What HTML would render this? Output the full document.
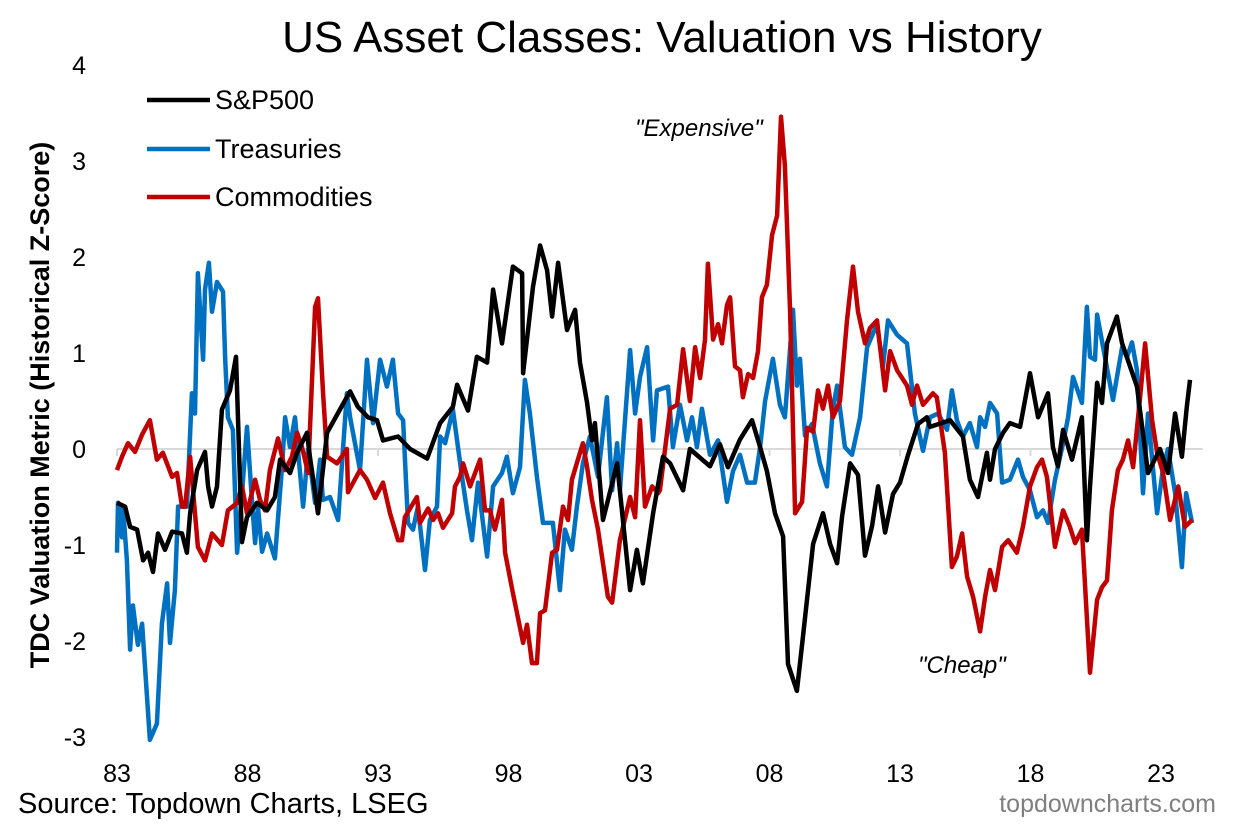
<!DOCTYPE html>
<html><head><meta charset="utf-8"><style>
body{margin:0;background:#fff;}
svg text{font-family:"Liberation Sans",Arial,sans-serif;}
</style></head><body>
<svg id="chart" width="1237" height="825" viewBox="0 0 1237 825">
<text x="662" y="52" text-anchor="middle" font-size="44" fill="#000">US Asset Classes: Valuation vs History</text>
<text transform="translate(49,405) rotate(-90)" text-anchor="middle" font-size="27" font-weight="bold">TDC Valuation Metric (Historical Z-Score)</text>
<g id="yticks"></g>
<g id="xticks"></g>
<g id="series"></g>
<g>
<line x1="147" y1="100" x2="210" y2="100" stroke="#000" stroke-width="4.5"/>
<text x="215" y="109" font-size="27">S&amp;P500</text>
<line x1="147" y1="149" x2="210" y2="149" stroke="#0070C0" stroke-width="4.5"/>
<text x="215" y="158" font-size="27">Treasuries</text>
<line x1="147" y1="197" x2="210" y2="197" stroke="#C00000" stroke-width="4.5"/>
<text x="215" y="206" font-size="27">Commodities</text>
</g>
<text x="635" y="136" font-size="24" font-style="italic">"Expensive"</text>
<text x="918" y="673" font-size="24" font-style="italic">"Cheap"</text>
<text x="18" y="813" font-size="29">Source: Topdown Charts, LSEG</text>
<text x="1216" y="812" font-size="25" text-anchor="end" fill="#7f7f7f">topdowncharts.com</text>
</svg>
<script>
const yTicks=[4,3,2,1,0,-1,-2,-3];
const xTickYears=[1983,1988,1993,1998,2003,2008,2013,2018,2023];
const xTickLabels=["83","88","93","98","03","08","13","18","23"];
const spT=[1983.00,1983.31,1983.50,1983.77,1984.00,1984.19,1984.38,1984.57,1984.84,1985.11,1985.49,1985.68,1985.80,1986.07,1986.37,1986.49,1986.64,1986.83,1987.02,1987.33,1987.56,1987.79,1987.98,1988.36,1988.75,1989.05,1989.25,1989.63,1989.90,1990.28,1990.39,1990.70,1991.05,1991.54,1991.93,1992.23,1992.62,1992.96,1993.19,1993.77,1994.23,1994.88,1995.38,1995.87,1996.03,1996.45,1996.79,1997.18,1997.41,1997.75,1998.17,1998.52,1998.56,1998.94,1999.21,1999.48,1999.67,1999.90,2000.24,2000.55,2000.74,2001.01,2001.20,2001.31,2001.62,2002.16,2002.66,2002.92,2003.15,2003.54,2003.92,2004.19,2004.69,2004.95,2005.72,2006.10,2006.41,2006.87,2007.33,2007.64,2007.90,2008.21,2008.52,2008.71,2009.05,2009.28,2009.67,2010.05,2010.32,2010.59,2010.78,2011.09,2011.39,2011.66,2011.93,2012.16,2012.43,2012.73,2013.00,2013.31,2013.69,2014.03,2014.15,2014.92,2015.41,2015.68,2015.99,2016.33,2016.45,2016.64,2016.95,2017.21,2017.60,2017.98,2018.29,2018.67,2018.86,2019.05,2019.25,2019.59,2019.97,2020.16,2020.28,2020.55,2020.74,2020.93,2021.31,2021.51,2022.08,2022.50,2022.96,2023.27,2023.54,2023.80,2023.99,2024.11];
const spV=[-0.56,-0.6,-0.81,-0.84,-1.16,-1.08,-1.28,-0.88,-1.05,-0.86,-0.88,-1.08,-0.67,-0.22,-0.03,-0.39,-0.6,-0.39,0.41,0.61,0.96,-0.97,-0.71,-0.56,-0.64,-0.5,-0.11,-0.25,-0.04,0.17,-0.08,-0.67,0.17,0.41,0.6,0.44,0.33,0.3,0.09,0.13,0,-0.1,0.27,0.44,0.67,0.4,0.96,0.9,1.66,1.1,1.9,1.83,0.79,1.69,2.12,1.86,1.38,1.94,1.24,1.45,0.9,0.48,0.09,0.27,-0.74,-0.15,-1.47,-1.05,-1.4,-0.67,-0.08,-0.15,-0.43,0,-0.18,0.05,-0.19,0.1,0.3,0.02,-0.23,-0.67,-0.91,-2.24,-2.52,-1.96,-0.99,-0.67,-0.99,-1.19,-0.7,-0.15,-0.27,-1.11,-0.8,-0.39,-0.87,-0.47,-0.35,-0.06,0.26,0.33,0.23,0.3,0.13,-0.32,-0.5,-0.04,-0.32,0,0.17,0.27,0.23,0.79,0.33,0.58,0.02,-0.18,0.2,-0.11,0.33,-0.95,-0.39,0.69,0.48,1.1,1.38,1.1,0.65,-0.25,0,-0.25,0.37,-0.08,0.44,0.72];
const tyT=[1983.00,1983.04,1983.19,1983.23,1983.38,1983.50,1983.61,1983.80,1983.96,1984.26,1984.53,1984.72,1984.92,1985.03,1985.22,1985.34,1985.68,1985.87,1985.99,1986.10,1986.30,1986.37,1986.52,1986.64,1986.83,1987.06,1987.14,1987.25,1987.44,1987.60,1987.79,1987.98,1988.17,1988.29,1988.40,1988.56,1988.75,1989.05,1989.32,1989.44,1989.63,1989.82,1990.13,1990.32,1990.59,1990.78,1990.89,1991.16,1991.47,1991.81,1991.93,1992.31,1992.58,1992.81,1993.08,1993.34,1993.57,1993.77,1993.96,1994.15,1994.34,1994.53,1994.80,1994.99,1995.26,1995.38,1995.57,1995.87,1996.22,1996.41,1996.60,1996.83,1997.18,1997.41,1997.75,1997.94,1998.17,1998.44,1998.63,1998.82,1999.09,1999.32,1999.70,1999.97,2000.16,2000.43,2000.62,2000.85,2001.12,2001.43,2001.77,2001.97,2002.16,2002.27,2002.66,2002.85,2003.04,2003.31,2003.54,2003.69,2004.11,2004.30,2004.57,2004.84,2005.03,2005.22,2005.41,2005.72,2006.03,2006.37,2006.60,2006.87,2007.14,2007.44,2007.64,2007.83,2008.13,2008.40,2008.59,2008.90,2009.05,2009.17,2009.36,2009.63,2009.93,2010.20,2010.43,2010.59,2010.89,2011.16,2011.47,2011.74,2012.12,2012.35,2012.54,2012.89,2013.27,2013.57,2013.88,2014.15,2014.46,2014.80,2014.99,2015.18,2015.41,2015.68,2015.95,2016.07,2016.26,2016.45,2016.72,2016.91,2017.21,2017.52,2017.71,2017.98,2018.25,2018.48,2018.67,2018.94,2019.25,2019.44,2019.63,2019.97,2020.16,2020.28,2020.47,2020.55,2020.78,2021.16,2021.51,2021.70,2021.89,2022.08,2022.31,2022.50,2022.85,2023.08,2023.27,2023.54,2023.80,2023.96,2024.19];
const tyV=[-1.08,-0.56,-0.92,-0.6,-1.16,-2.09,-1.63,-2.04,-1.82,-3.03,-2.86,-1.82,-1.4,-2.02,-1.47,-0.6,-0.6,0.58,0.37,1.83,0.93,1.66,1.94,1.43,1.74,1.64,0.96,0.33,0.2,-1.08,-0.46,0.23,-0.53,-0.98,-0.6,-1.07,-0.88,-1.14,-0.19,0.33,0.02,0.33,-0.6,0,-0.56,-0.11,-0.53,-0.5,-0.74,0.58,0.33,-0.22,0.93,0.27,0.93,0.65,0.93,0.37,0.3,-0.77,-0.84,-0.6,-1.26,-0.74,-0.6,0.13,0.06,0.41,-0.29,-0.64,-0.95,-0.35,-1.12,-0.39,-0.25,-0.08,-0.46,-0.19,0.72,0.37,-0.29,-0.77,-0.77,-1.47,-0.84,-1.05,-0.6,-0.15,0.13,-0.29,0.54,-0.43,0.06,-0.43,1.03,0.37,0.75,1.06,0.09,0.61,0.65,0.02,0.46,0.09,0.33,0.02,0.42,-0.06,0.09,-0.55,-0.23,-0.06,-0.35,-0.35,0.02,0.5,0.94,0.46,0.33,1.45,0.66,0.94,0.14,0.26,-0.15,-0.39,0.42,0.66,0.02,-0.06,0.33,1.06,1.3,0.86,1.34,1.19,1.1,0.37,-0.02,0.33,0.37,0.2,0.61,0.3,0.13,0.27,0.02,0.33,0.23,0.48,0.37,-0.35,-0.32,-0.11,-0.29,-0.43,-0.71,-0.64,-0.77,-0.32,0.06,0.33,0.75,0.48,1.48,0.96,0.93,1.4,1.06,0.51,1.06,0.96,1.11,0.82,-0.46,0.37,-0.67,-0.19,0,-0.46,-1.23,-0.46,-0.77];
const cmT=[1983.00,1983.19,1983.42,1983.69,1983.96,1984.26,1984.53,1984.76,1985.11,1985.30,1985.49,1985.61,1985.80,1986.10,1986.37,1986.64,1987.02,1987.25,1987.60,1987.79,1987.98,1988.29,1988.48,1988.67,1988.86,1989.17,1989.44,1989.70,1989.90,1990.09,1990.32,1990.59,1990.70,1990.89,1991.05,1991.43,1991.81,1991.85,1992.31,1992.58,1992.89,1993.19,1993.46,1993.77,1993.92,1994.03,1994.49,1994.61,1994.92,1995.11,1995.30,1995.49,1995.84,1995.95,1996.14,1996.26,1996.53,1996.91,1997.10,1997.29,1997.48,1997.75,1997.87,1998.17,1998.56,1998.71,1998.90,1999.09,1999.21,1999.40,1999.67,1999.86,2000.09,2000.28,2000.43,2000.66,2000.85,2001.01,2001.20,2001.43,2001.81,2001.97,2002.27,2002.66,2002.85,2003.04,2003.23,2003.50,2003.73,2003.80,2004.19,2004.46,2004.69,2004.95,2005.15,2005.34,2005.53,2005.64,2005.84,2006.03,2006.18,2006.37,2006.49,2006.68,2006.87,2006.98,2007.18,2007.37,2007.56,2007.71,2007.90,2008.10,2008.29,2008.44,2008.59,2008.79,2008.98,2009.25,2009.44,2009.67,2009.86,2010.05,2010.24,2010.43,2010.70,2010.97,2011.20,2011.39,2011.66,2011.85,2012.12,2012.43,2012.62,2012.89,2013.27,2013.46,2013.65,2013.88,2014.26,2014.41,2014.72,2014.99,2015.18,2015.38,2015.57,2015.80,2016.07,2016.26,2016.45,2016.64,2016.91,2017.14,2017.48,2017.71,2017.98,2018.25,2018.44,2018.63,2018.82,2018.94,2019.25,2019.51,2019.71,2019.97,2020.28,2020.55,2020.74,2020.93,2021.12,2021.35,2021.54,2021.74,2021.93,2022.20,2022.39,2022.66,2022.85,2023.08,2023.35,2023.66,2023.92,2024.19];
const cmV=[-0.22,-0.08,0.06,-0.03,0.15,0.3,-0.11,-0.04,-0.29,-0.25,-0.6,-0.6,-0.08,-1.02,-1.16,-0.88,-1.0,-0.64,-0.56,-0.39,-0.67,-0.32,-0.53,-0.64,-0.22,0.11,-0.22,-0.08,0.17,0.02,-0.25,1.48,1.57,0.61,-0.08,-0.15,0,-0.45,-0.22,-0.32,-0.51,-0.35,-0.67,-0.95,-0.95,-0.71,-0.5,-0.77,-0.62,-0.74,-0.67,-0.82,-0.67,-0.39,-0.29,-0.15,-0.39,-0.11,-0.64,-0.64,-0.84,-0.53,-1.08,-1.5,-2.02,-1.83,-2.23,-2.23,-1.71,-1.68,-1.08,-1.05,-0.6,-0.74,-0.32,-0.11,0.06,-0.19,-0.53,-0.84,-1.54,-1.6,-0.95,-0.5,-0.71,0.3,-0.6,-0.39,-0.46,-0.43,0.42,0.46,1.04,0.5,1.06,0.74,1.14,1.93,1.14,1.3,1.1,1.5,1.58,0.86,0.82,0.54,0.78,0.74,1.02,1.58,1.71,2.23,2.43,3.46,2.95,1.43,-0.67,-0.55,0.22,0.18,0.61,0.42,0.66,0.33,0.5,1.34,1.9,1.43,1.1,1.26,1.34,0.61,1.02,0.82,0.66,0.46,0.66,0.46,0.58,0.54,-0.04,-1.23,-1.12,-0.88,-1.33,-1.54,-1.9,-1.54,-1.26,-1.47,-1.02,-0.95,-1.08,-0.81,-0.39,-0.19,-0.11,-0.29,-0.74,-1.02,-0.64,-0.81,-0.98,-0.84,-2.33,-1.57,-1.44,-1.37,-0.64,-0.22,-0.11,0.09,-0.19,0.54,1.1,0.3,-0.04,-0.25,-0.74,-0.39,-0.81,-0.74];

const NS='http://www.w3.org/2000/svg';
const X0=117,PXY=26.1,Y0=449,PXV=96;
function xs(t){return X0+(t-1983)*PXY;}
function ys(v){return Y0-v*PXV;}
const yg=document.getElementById('yticks');
yTicks.forEach(v=>{
  const t=document.createElementNS(NS,'text');
  t.setAttribute('x',86);t.setAttribute('y',ys(v)+9);
  t.setAttribute('text-anchor','end');t.setAttribute('font-size','25');
  t.textContent=String(v);
  
  
  yg.appendChild(t);
});
const xg=document.getElementById('xticks');
const zl=document.createElementNS(NS,'line');
zl.setAttribute('x1',xs(1983));zl.setAttribute('x2',xs(2024.6));
zl.setAttribute('y1',ys(0));zl.setAttribute('y2',ys(0));
zl.setAttribute('stroke','#d9d9d9');zl.setAttribute('stroke-width','2');


xg.appendChild(zl);
xTickYears.forEach((yr,i)=>{
  const tk=document.createElementNS(NS,'line');
  tk.setAttribute('x1',xs(yr));tk.setAttribute('x2',xs(yr));
  tk.setAttribute('y1',ys(0));tk.setAttribute('y2',ys(0)+7);
  tk.setAttribute('stroke','#d9d9d9');tk.setAttribute('stroke-width','2');
  
  
  xg.appendChild(tk);
  const t=document.createElementNS(NS,'text');
  t.setAttribute('x',xs(yr));t.setAttribute('y',782);
  t.setAttribute('text-anchor','middle');t.setAttribute('font-size','25');
  t.textContent=xTickLabels[i];
  
  
  xg.appendChild(t);
});
const sg=document.getElementById('series');
function draw(T,V,color,name){
  const p=document.createElementNS(NS,'polyline');
  p.setAttribute('points',T.map((t,i)=>xs(t).toFixed(1)+','+ys(V[i]).toFixed(1)).join(' '));
  p.setAttribute('fill','none');p.setAttribute('stroke',color);
  p.setAttribute('stroke-width','4.5');p.setAttribute('stroke-linejoin','round');
  
  
  sg.appendChild(p);
}
draw(tyT,tyV,'#0070C0','treasuries-line');
draw(cmT,cmV,'#C00000','commodities-line');
draw(spT,spV,'#000000','sp500-line');
</script>
</body></html>
